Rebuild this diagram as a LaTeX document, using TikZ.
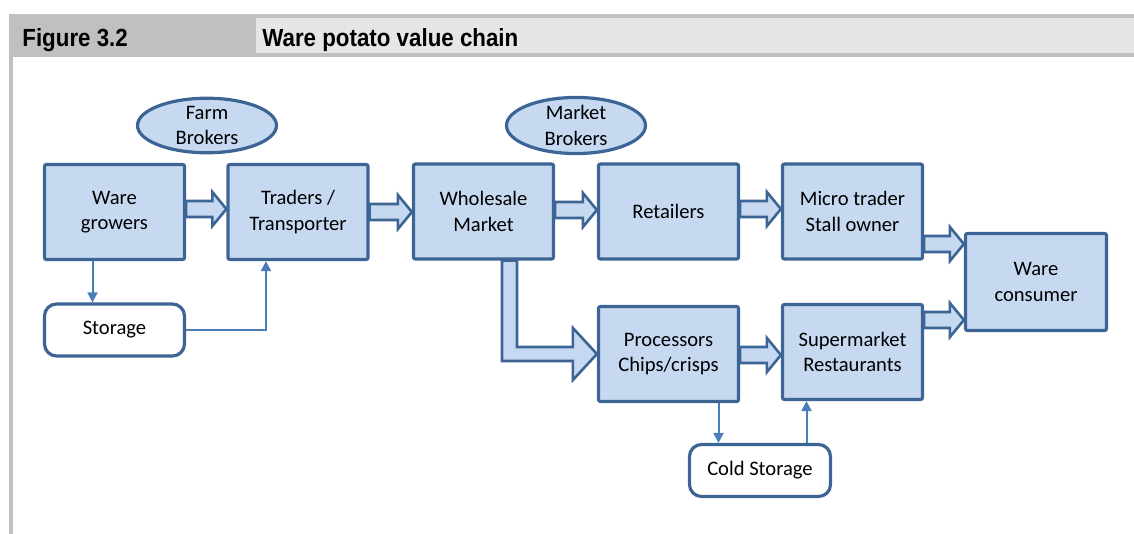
\documentclass[tikz,border=0pt]{standalone}
\usepackage{fontspec}
\setmainfont{Carlito}
\newfontfamily\hdrfont[FakeStretch=0.9]{Liberation Sans}
\usetikzlibrary{shapes.geometric,arrows.meta,calc}
\definecolor{boxfill}{HTML}{C6D9F1}
\definecolor{boxline}{HTML}{3C6494}
\definecolor{thinline}{HTML}{4A7EBB}
\definecolor{hdrdark}{HTML}{C0C0C0}
\definecolor{hdrlight}{HTML}{E6E6E6}
\newcommand\harrow[3]{%
  \path[blockarrow] let \p1=(#1.east), \p2=(#2.west), \p3=(0,#3) in
    (\x1,\y3+4pt) -- (\x2-7pt,\y3+4pt) -- (\x2-7pt,\y3+8.5pt) -- (\x2,\y3)
    -- (\x2-7pt,\y3-8.5pt) -- (\x2-7pt,\y3-4pt) -- (\x1,\y3-4pt) -- cycle;}
\begin{document}
\begin{tikzpicture}[x=0.5pt,y=-0.5pt,
  txt/.style={font=\fontsize{10.3}{12.6}\selectfont, align=center},
  stage/.style={txt, draw=boxline, fill=boxfill, line width=1.6pt, rounded corners=1pt,
    minimum width=70pt, minimum height=47.5pt, inner sep=0pt},
  broker/.style={txt, ellipse, draw=boxline, fill=boxfill, line width=1.6pt,
    minimum width=69.5pt, minimum height=27pt, inner sep=0pt},
  store/.style={txt, draw=boxline, fill=white, line width=1.6pt, rounded corners=6pt,
    minimum width=70.5pt, minimum height=26pt, inner sep=0pt},
  blockarrow/.style={draw=boxline, fill=boxfill, line width=1.3pt, line join=miter},
  flow/.style={draw=thinline, line width=1pt, -{Triangle[width=5pt,length=5pt]}},
  hdr/.style={anchor=base west, inner sep=0pt, font=\hdrfont\bfseries\fontsize{12.4}{14}\selectfont}]
\useasboundingbox (0,0) rectangle (1134,534);
% header
\fill[hdrdark] (9,14) rectangle (1134,57);
\fill[hdrdark] (9,57) rectangle (13,534);
\fill[hdrlight] (256,18) rectangle (1134,53);
\node[hdr] (fig) at (22,47) {Figure 3.2};
\node[hdr] (title) at (262,47) {Ware potato value chain};
% nodes
\node[broker] (farm) at (207,125.5) {Farm\\Brokers};
\node[broker] (mbrok) at (576,125.5) {Market\\Brokers};
\node[stage] (grow) at (114.5,212) {Ware\\growers};
\node[stage] (trad) at (298,212) {Traders /\\Transporter};
\node[stage] (whole) at (483.5,211.5) {Wholesale\\Market};
\node[stage] (ret) at (668.5,211.5) {Retailers};
\node[stage] (micro) at (852.5,211.5) {Micro trader\\Stall owner};
\node[stage, minimum width=70.5pt, minimum height=48.5pt] (cons) at (1036,282) {Ware\\consumer};
\node[stage] (proc) at (668.5,354) {Processors\\Chips/crisps};
\node[stage] (super) at (852.5,352) {Supermarket\\Restaurants};
\node[store, minimum width=70pt] (stor) at (114.5,330) {Storage};
\node[store] (cold) at (760,470.5) {Cold Storage};
% block arrows
\harrow{grow}{trad}{209}
\harrow{trad}{whole}{212}
\harrow{whole}{ret}{210}
\harrow{ret}{micro}{209}
\harrow{micro}{cons}{244}
\harrow{super}{cons}{320}
\harrow{proc}{super}{355}
\path[blockarrow] let \p1=(whole.south), \p2=(proc.west) in
  (\x1+9.25pt,\y1) -- (\x1+9.25pt,\y2-3.5pt) -- (\x2-12pt,\y2-3.5pt)
  -- (\x2-12pt,\y2-13pt) -- (\x2,\y2) -- (\x2-12pt,\y2+13pt)
  -- (\x2-12pt,\y2+3.5pt) -- (\x1+16.75pt,\y2+3.5pt) -- (\x1+16.75pt,\y1) -- cycle;
% thin arrows
\coordinate (gs) at ([xshift=-11pt]grow.south);
\draw[flow] (gs) -- (gs |- stor.north);
\coordinate (ts) at ([xshift=-16pt]trad.south);
\draw[flow] (stor.east) -| (ts);
\coordinate (pc) at ([xshift=25pt]proc.south);
\draw[flow] (pc) -- (pc |- cold.north);
\coordinate (cs) at ([xshift=-23pt]super.south);
\draw[flow] (cold.north -| cs) -- (cs);
\end{tikzpicture}
\end{document}
